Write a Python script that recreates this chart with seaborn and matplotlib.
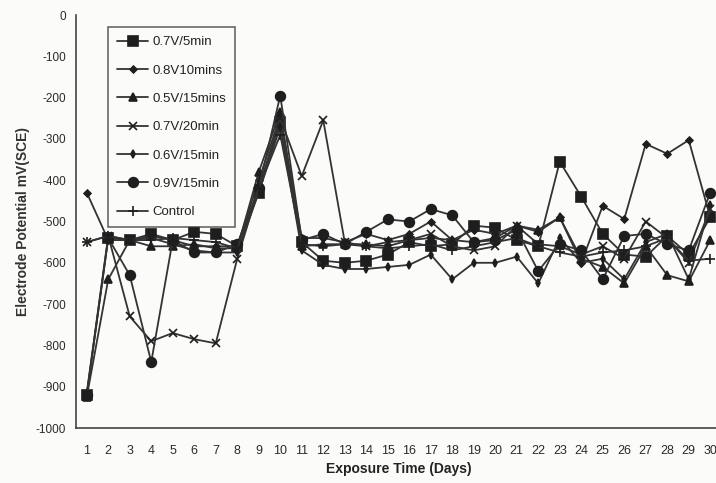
import matplotlib
matplotlib.use("Agg")
import matplotlib.pyplot as plt
import seaborn as sns
import numpy as np

days = list(range(1, 31))

v07_5 = [-920, -540, -545, -530, -545, -525, -530, -560, -430, -260,
         -550, -595, -600, -595, -580, -550, -560, -555, -510, -515,
         -545, -560, -355, -440, -530, -580, -585, -535, -580, -490]
v08_10 = [-430, -545, -545, -535, -545, -560, -560, -560, -400, -245,
          -540, -540, -550, -530, -545, -530, -500, -545, -520, -530,
          -510, -525, -490, -600, -462, -494, -312, -336, -303, -490]
v05_15 = [-925, -640, -545, -560, -560, -555, -565, -565, -380, -235,
          -560, -555, -555, -555, -560, -545, -540, -545, -550, -540,
          -510, -520, -490, -590, -610, -650, -560, -630, -645, -545]
v07_20 = [-550, -535, -730, -790, -770, -785, -795, -590, -420, -250,
          -390, -255, -550, -560, -550, -545, -530, -560, -570, -560,
          -510, -555, -560, -580, -560, -590, -500, -540, -600, -470]
v06_15 = [-915, -535, -545, -540, -555, -570, -575, -575, -430, -270,
          -570, -605, -615, -615, -610, -605, -580, -640, -600, -600,
          -585, -650, -540, -600, -590, -640, -550, -530, -640, -460]
v09_15 = [-920, -540, -630, -840, -545, -575, -575, -555, -420, -195,
          -545, -530, -555, -525, -495, -500, -470, -485, -550, -545,
          -520, -620, -555, -570, -640, -535, -530, -555, -570, -430]
control = [-550, -535, -545, -545, -540, -545, -550, -565, -420, -290,
           -555, -560, -555, -560, -565, -560, -555, -570, -560, -550,
           -540, -560, -575, -585, -575, -570, -560, -540, -595, -590]

labels = ["0.7V/5min", "0.8V10mins", "0.5V/15mins", "0.7V/20min",
          "0.6V/15min", "0.9V/15min", "Control"]
series = [v07_5, v08_10, v05_15, v07_20, v06_15, v09_15, control]
markers = ["s", "D", "^", "x", "d", "o", "+"]
msizes = [7.5, 3.5, 5.5, 6, 4, 7, 7]

sns.set_theme(style="white")
plt.rcParams["font.family"] = ["Liberation Sans", "DejaVu Sans"]

fig = plt.figure(figsize=(7.16, 4.83), dpi=100)
fig.patch.set_facecolor("#fbfbfa")
ax = fig.add_axes([76 / 716, 55 / 483, 645 / 716, 413 / 483])
ax.set_facecolor("#fbfbfa")

lc = "#333333"
for lab, vals, mk, ms in zip(labels, series, markers, msizes):
    sns.lineplot(x=days, y=vals, ax=ax, color=lc, linewidth=1.3, marker=mk,
                 markersize=ms, markeredgecolor="#1e1e1e", markerfacecolor="#1e1e1e",
                 markeredgewidth=1.2, label=lab)

ax.set_xlim(0.5, 30.5)
ax.set_ylim(-1000, 0)
ax.set_yticks(np.arange(-1000, 1, 100))
ax.set_yticklabels([str(v) for v in range(-1000, 1, 100)], fontsize=8.5, color="#2a2a2a")
ax.set_xticks(days)
ax.set_xticklabels([str(d) for d in days], fontsize=9, color="#2a2a2a")
ax.set_xticks(np.arange(0.5, 31, 1), minor=True)
ax.tick_params(axis="x", which="major", length=0, pad=12)
ax.tick_params(axis="x", which="minor", length=4, width=1, direction="inout", color="#444444")
ax.tick_params(axis="y", which="major", length=4, width=1, direction="out", color="#444444", pad=3)

for s in ["top", "right"]:
    ax.spines[s].set_visible(False)
for s in ["left", "bottom"]:
    ax.spines[s].set_color("#444444")
    ax.spines[s].set_linewidth(1.2)

ax.set_xlabel("Exposure Time (Days)", fontsize=10, fontweight="bold", color="#222222", labelpad=4)
ax.set_ylabel("Electrode Potential mV(SCE)", fontsize=10, fontweight="bold", color="#333333", labelpad=4)

leg = ax.legend(loc="upper left", bbox_to_anchor=(0.05, 0.97), borderaxespad=0,
                fontsize=9.5, labelspacing=1.22, handlelength=2.4, handletextpad=0.3,
                frameon=True, fancybox=False, borderpad=0.65)
leg.get_frame().set_edgecolor("#333333")
leg.get_frame().set_linewidth(1.1)
leg.get_frame().set_facecolor("#fbfbfa")
for t in leg.get_texts():
    t.set_color("#222222")

fig.savefig("out.png", dpi=100, facecolor=fig.get_facecolor())
